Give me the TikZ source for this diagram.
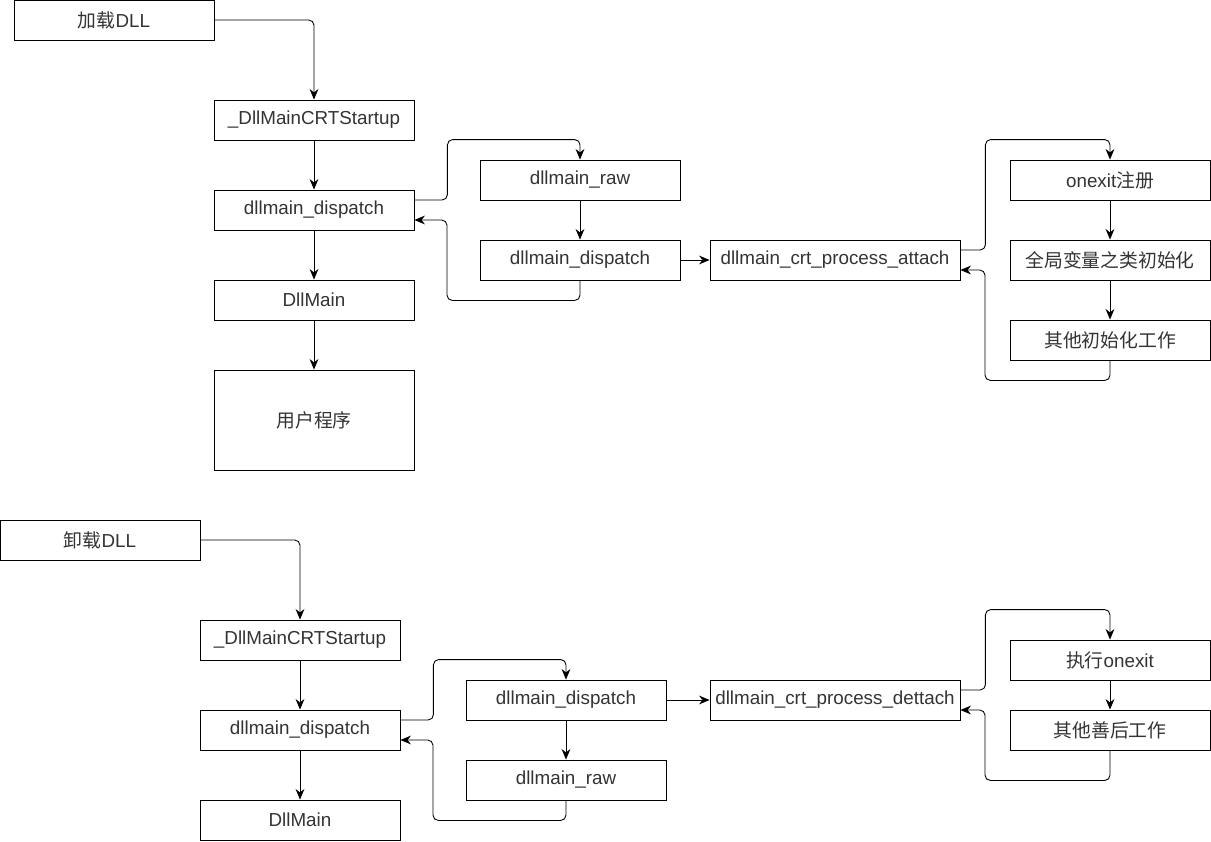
\documentclass[tikz,border=0pt]{standalone}
\usepackage{fontspec}
\setmainfont{Liberation Sans}
\newfontfamily\cjk{Noto Sans CJK SC}
\usetikzlibrary{arrows.meta,calc}

\begin{document}
\begin{tikzpicture}[x=0.02cm,y=-0.02cm,
    box/.style={draw,line width=0.5pt,minimum width=4cm,minimum height=0.8cm,inner sep=0pt,
      text=black!80,font=\fontsize{10.7}{13}\selectfont},
    widebox/.style={box,minimum width=5cm},
    arr/.style={line width=0.5pt,rounded corners=3pt,-{Stealth[length=6pt,width=5pt]}}]
    \useasboundingbox (0,0) rectangle (1211,842);
    % loading
    \node[box] (load) at (114,20) {{\cjk 加载}DLL};
    \node[box] (crt1) at (314,120) {\_DllMainCRTStartup};
    \node[box] (disp1) at (314,210) {dllmain\_dispatch};
    \node[box] (main1) at (314,300) {DllMain};
    \node[box,minimum height=2cm] (user) at (314,420) {\cjk 用户程序};
    \node[box] (raw1) at (580,180) {dllmain\_raw};
    \node[box] (disp2) at (580,260) {dllmain\_dispatch};
    \node[widebox] (attach) at (835,260) {dllmain\_crt\_process\_attach};
    \node[box] (onexit) at (1110,180) {onexit{\cjk 注册}};
    \node[box] (globals) at (1110,260) {\cjk 全局变量之类初始化};
    \node[box] (other1) at (1110,340) {\cjk 其他初始化工作};
    \draw[arr] (load.east) -| (crt1.north);
    \draw[arr] (crt1) -- (disp1);
    \draw[arr] (disp1) -- (main1);
    \draw[arr] (main1) -- (user);
    \draw[arr] ([yshift=.2cm]disp1.east) -- ++(33,0) |- ($(raw1.north)+(0,-20)$) -- (raw1.north);
    \draw[arr] (raw1) -- (disp2);
    \draw[arr] (disp2.south) -- ++(0,20) -- ++(-133,0) |- ([yshift=-.2cm]disp1.east);
    \draw[arr] (disp2) -- (attach);
    \draw[arr] ([yshift=.2cm]attach.east) -- ++(25,0) |- ($(onexit.north)+(0,-20)$) -- (onexit.north);
    \draw[arr] (onexit) -- (globals);
    \draw[arr] (globals) -- (other1);
    \draw[arr] (other1.south) -- ++(0,20) -- ++(-125,0) |- ([yshift=-.2cm]attach.east);
    % unloading
    \node[box] (unload) at (100,540) {{\cjk 卸载}DLL};
    \node[box] (crt2) at (300,640) {\_DllMainCRTStartup};
    \node[box] (disp3) at (300,730) {dllmain\_dispatch};
    \node[box] (main2) at (300,820) {DllMain};
    \node[box] (disp4) at (566,700) {dllmain\_dispatch};
    \node[box] (raw2) at (566,780) {dllmain\_raw};
    \node[widebox] (detach) at (835,700) {dllmain\_crt\_process\_dettach};
    \node[box] (runexit) at (1110,660) {{\cjk 执行}onexit};
    \node[box] (other2) at (1110,730) {\cjk 其他善后工作};
    \draw[arr] (unload.east) -| (crt2.north);
    \draw[arr] (crt2) -- (disp3);
    \draw[arr] (disp3) -- (main2);
    \draw[arr] ([yshift=.2cm]disp3.east) -- ++(33,0) |- ($(disp4.north)+(0,-20)$) -- (disp4.north);
    \draw[arr] (disp4) -- (raw2);
    \draw[arr] (raw2.south) -- ++(0,20) -- ++(-133,0) |- ([yshift=-.2cm]disp3.east);
    \draw[arr] (disp4) -- (detach);
    \draw[arr] ([yshift=.2cm]detach.east) -- ++(25,0) |- ($(runexit.north)+(0,-30)$) -- (runexit.north);
    \draw[arr] (runexit) -- (other2);
    \draw[arr] (other2.south) -- ++(0,30) -- ++(-125,0) |- ([yshift=-.2cm]detach.east);
\end{tikzpicture}
\end{document}
